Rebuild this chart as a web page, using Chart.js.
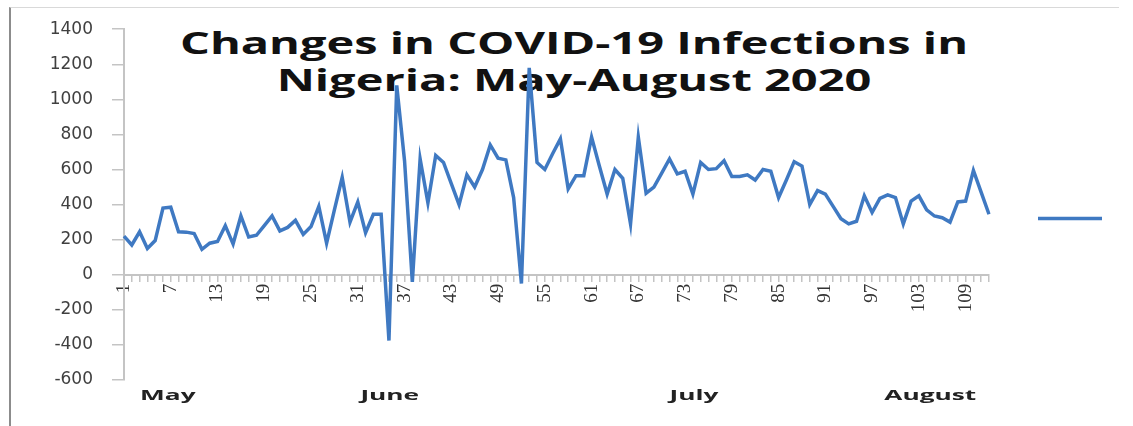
<!DOCTYPE html>
<html>
<head>
<meta charset="utf-8">
<title>Changes in COVID-19 Infections in Nigeria</title>
<script src="https://cdn.jsdelivr.net/npm/chart.js@4.4.1/dist/chart.umd.min.js"></script>
<style>
  html, body { margin: 0; padding: 0; background: #fff; }
  #wrap { position: relative; width: 1133px; height: 426px; overflow: hidden; }
  #frame { position: absolute; left: 9px; top: 7px; width: 1110px; height: 440px;
           border-left: 2px solid #8c8c8c; border-top: 1px solid #d9d9d9; box-sizing: border-box; }
  #chart { position: absolute; left: 0; top: 0; }
  #title { position: absolute; left: 574px; top: 24px; transform-origin: center top;
           font-family: 'Open Sans', sans-serif; font-weight: 700; font-size: 30px; line-height: 37px;
           color: #111; text-align: center; white-space: nowrap; }
  .month { position: absolute; top: 384px; font-family: 'Open Sans', sans-serif; font-weight: 700;
           font-size: 15px; line-height: 20px; color: #222; white-space: nowrap; transform-origin: center; }
</style>
</head>
<body>
<div id="wrap">
  <div id="frame"></div>
  <div id="title"><div id="t1">Changes in COVID-19 Infections in</div><div>Nigeria: May-August 2020</div></div>
  <canvas id="chart" width="1133" height="426"></canvas>
</div>
<script>
// ─── Data (daily change in new cases, day 1 = 1 May 2020) ───
const days = Array.from({ length: 112 }, (_, i) => String(i + 1));
const dailyChange = [
  220, 170, 245, 150, 195, 380, 385, 245, 243, 235,
  145, 180, 190, 280, 175, 335, 215, 225, 280, 335,
  250, 270, 310, 230, 275, 390, 180, 370, 555, 300,
  415, 240, 345, 345, -375, 1080, 650, -40, 660, 410,
  680, 640, 520, 400, 570, 500, 600, 740, 665, 655,
  440, -50, 1180, 640, 600, 690, 775, 490, 565, 565,
  785, 620, 460, 600, 550, 290, 785, 465, 500, 580,
  660, 575, 590, 460, 640, 600, 605, 650, 560, 560,
  570, 540, 600, 590, 440, 540, 645, 620, 400, 480,
  460, 390, 320, 290, 305, 450, 355, 435, 455, 440,
  290, 420, 450, 370, 335, 325, 300, 415, 420, 595,
  470, 345
];
const yTicks = [-600, -400, -200, 0, 200, 400, 600, 800, 1000, 1200, 1400];
const months = ['May', 'June', 'July', 'August'];
const monthMidDay = [6.6, 35.1, 74.1, 104.5];

const lineBlue = '#3f79c2';

const chart = new Chart(document.getElementById('chart'), {
  type: 'line',
  data: {
    labels: days,
    datasets: [{
      label: '',
      data: dailyChange,
      borderColor: lineBlue,
      backgroundColor: lineBlue,
      borderWidth: 3.5,
      pointRadius: 0,
      tension: 0
    }]
  },
  options: {
    responsive: false,
    animation: false,
    layout: { padding: { left: 20, top: 29, bottom: 46, right: 15 } },
    plugins: {
      tooltip: { enabled: false },
      legend: {
        position: 'right',
        // empty title only pushes the swatch down a little, as in the source
        title: { display: true, text: ' ', font: { size: 10 }, padding: { top: 16, bottom: 0 } },
        labels: { usePointStyle: true, pointStyle: 'line', pointStyleWidth: 64, padding: 49,
                  font: { size: 12 } }
      }
    },
    scales: {
      x: {
        position: { y: 0 },
        offset: false,
        grid: { drawOnChartArea: false, drawTicks: true, tickLength: 6, color: '#c4c4c4', lineWidth: 1.5 },
        border: { display: true, color: '#c4c4c4', width: 2 },
        ticks: {
          autoSkip: false, minRotation: 90, maxRotation: 90, padding: 3,
          color: '#333', font: { family: "'Liberation Serif'", size: 19 },
          callback: (v, i) => (i % 6 === 0 ? days[i] : '')
        }
      },
      y: {
        min: -600, max: 1400,
        afterBuildTicks: s => { s.ticks = yTicks.map(v => ({ value: v })); },
        afterFit: s => { s.width = 104; },
        grid: { drawOnChartArea: false, drawTicks: true, tickLength: 12, color: '#c4c4c4', lineWidth: 1.5 },
        border: { display: true, color: '#c4c4c4', width: 2 },
        ticks: {
          padding: 19, color: '#404040',
          font: { family: "'DejaVu Sans'", size: 17 },
          callback: v => String(v)
        }
      }
    }
  }
});

// ─── Title: stretched like the source image ───
const title = document.getElementById('title');
const t1 = document.getElementById('t1');
const sx = 788 / t1.getBoundingClientRect().width;
title.style.transform = 'translateX(-50%) scaleX(' + sx.toFixed(3) + ')';

// ─── Month labels placed through the category scale ───
const wrap = document.getElementById('wrap');
months.forEach((m, i) => {
  const el = document.createElement('div');
  el.className = 'month';
  el.textContent = m;
  wrap.appendChild(el);
  const w = el.getBoundingClientRect().width;
  const px = chart.scales.x.getPixelForValue(monthMidDay[i] - 1);
  el.style.left = (px - w / 2) + 'px';
  el.style.transform = 'scaleX(1.75)';
});
</script>
</body>
</html>
